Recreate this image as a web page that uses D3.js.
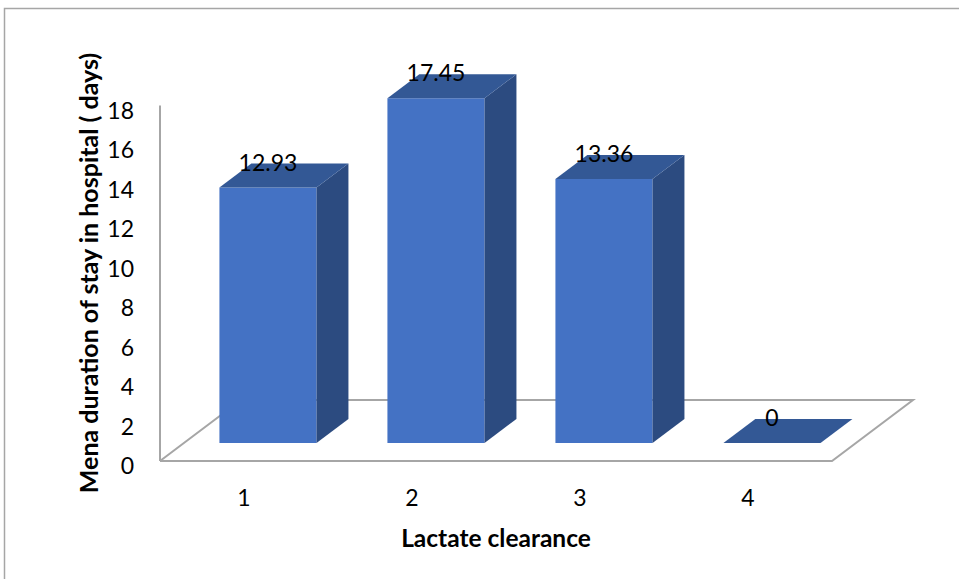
<!DOCTYPE html>
<html>
<head>
<meta charset="utf-8">
<script src="https://cdn.jsdelivr.net/npm/d3@7"></script>
<style>
  html, body { margin: 0; padding: 0; background: #fff; }
  svg { display: block; font-family: Lato, "Open Sans", sans-serif; }
</style>
</head>
<body>
<svg id="chart" width="959" height="579"></svg>
<script>
// Mean hospital stay (days) by lactate clearance group
const categories = ["1", "2", "3", "4"];
const values = [12.93, 17.45, 13.36, 0];
const yTicks = [0, 2, 4, 6, 8, 10, 12, 14, 16, 18];
const xTitle = "Lactate clearance";
const yTitle = "Mena duration of stay in hospital ( days)";

const svg = d3.select("#chart");

// frame around the chart area
svg.append("rect")
  .attr("x", 4.5).attr("y", 8.5)
  .attr("width", 1000).attr("height", 1000)
  .attr("fill", "none").attr("stroke", "#a6a6a6").attr("stroke-width", 1.5);

// plot geometry: front floor edge and oblique depth direction
const floorLeft = 160, floorRight = 832, floorY = 461;
const depth = { dx: 81, dy: -61 };       // full depth of the floor
const barFront = 0.296, barBack = 0.69;  // bar depth position as fraction of floor depth

const x = d3.scaleBand().domain(categories).range([floorLeft, floorRight]).paddingInner(0).paddingOuter(0);
const y = d3.scaleLinear().domain([0, 18]).range([floorY, floorY - 18 * 19.75]);
const barWidth = x.bandwidth() * 0.578;

const floorG = svg.append("g").attr("fill", "none").attr("stroke", "#a6a6a6").attr("stroke-width", 2);
// floor parallelogram
floorG.append("path").attr("d", d3.line()([
  [floorLeft, floorY], [floorRight, floorY],
  [floorRight + depth.dx, floorY + depth.dy],
  [floorLeft + depth.dx, floorY + depth.dy],
  [floorLeft, floorY]
]));
// vertical value axis
floorG.append("line")
  .attr("x1", floorLeft).attr("x2", floorLeft)
  .attr("y1", y(18)).attr("y2", y(0));

// tick labels
svg.append("g").selectAll("text").data(yTicks).join("text")
  .attr("x", 134).attr("y", d => y(d) + 4)
  .attr("text-anchor", "end").attr("dominant-baseline", "central")
  .attr("font-size", 23).attr("fill", "#000")
  .text(d => d);

// bars
const fdx = depth.dx * barFront, fdy = depth.dy * barFront;
const bdx = depth.dx * barBack, bdy = depth.dy * barBack;
const h = v => y(0) - y(v);

const bars = svg.append("g").selectAll("g").data(values).join("g");
bars.each(function(v, i) {
  const g = d3.select(this);
  const cx = x(categories[i]) + x.bandwidth() / 2 + fdx;
  const x0 = cx - barWidth / 2, x1 = cx + barWidth / 2;
  const yb = floorY + fdy;            // front bottom
  const yt = yb - h(v);               // front top
  const ddx = bdx - fdx, ddy = bdy - fdy;
  if (v > 0) {
    g.append("path").attr("fill", "#4472c4")
      .attr("d", d3.line()([[x0, yb], [x1, yb], [x1, yt], [x0, yt]]) + "Z");
    g.append("path").attr("fill", "#2c4b80")
      .attr("d", d3.line()([[x1, yb], [x1 + ddx, yb + ddy], [x1 + ddx, yt + ddy], [x1, yt]]) + "Z");
  }
  g.append("path").attr("fill", "#335895")
    .attr("d", d3.line()([[x0, yt], [x1, yt], [x1 + ddx, yt + ddy], [x0 + ddx, yt + ddy]]) + "Z");
  // value label
  g.append("text")
    .attr("x", cx).attr("y", yt + ddy - 2)
    .attr("text-anchor", "middle").attr("dominant-baseline", "central")
    .attr("font-size", 23).attr("fill", "#000")
    .text(v);
});

// category labels
svg.append("g").selectAll("text").data(categories).join("text")
  .attr("x", d => x(d) + x.bandwidth() / 2).attr("y", 497)
  .attr("text-anchor", "middle").attr("dominant-baseline", "central")
  .attr("font-size", 23).attr("fill", "#000")
  .text(d => d);

// axis titles
svg.append("text")
  .attr("x", 496).attr("y", 537)
  .attr("text-anchor", "middle").attr("dominant-baseline", "central")
  .attr("font-size", 24.5).attr("font-weight", "bold").attr("fill", "#000")
  .text(xTitle);

svg.append("text")
  .attr("transform", "translate(88,273) rotate(-90)")
  .attr("text-anchor", "middle").attr("dominant-baseline", "central")
  .attr("font-size", 25).attr("font-weight", "bold").attr("fill", "#000")
  .text(yTitle);
</script>
</body>
</html>
